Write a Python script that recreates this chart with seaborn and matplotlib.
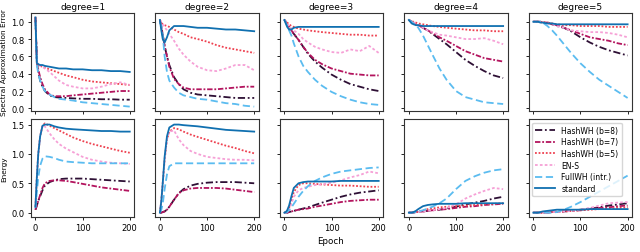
import matplotlib
matplotlib.use("Agg")
import matplotlib.pyplot as plt
import seaborn as sns
import pandas as pd

EPOCHS = [0, 3, 6, 10, 15, 20, 30, 40, 50, 65, 80, 100, 120, 140, 160, 180, 200]
DEGREES = [1, 2, 3, 4, 5]
METHODS = ["HashWH (b=8)", "HashWH (b=7)", "HashWH (b=5)", "EN-S", "FullWH (intr.)", "standard"]
COLORS = ["#2e1035", "#b3145e", "#ee4150", "#f6a0d6", "#5bbcf0", "#1070b0"]
DASHES = [(4, 1.5, 1, 1.5), (3, 1, 1, 1), (1, 1), (1.5, 1.2), (4, 2), ""]

# spectral approximation error, one dict per degree
ERR_D1 = {
    "HashWH (b=8)": [1.05, 0.55, 0.42, 0.32, 0.25, 0.2, 0.15, 0.13, 0.125, 0.12, 0.115, 0.11, 0.11, 0.105, 0.105, 0.1, 0.1],
    "HashWH (b=7)": [1.05, 0.55, 0.45, 0.36, 0.28, 0.22, 0.16, 0.14, 0.14, 0.14, 0.15, 0.16, 0.17, 0.18, 0.19, 0.2, 0.2],
    "HashWH (b=5)": [1.05, 0.52, 0.5, 0.49, 0.48, 0.47, 0.45, 0.43, 0.41, 0.38, 0.36, 0.33, 0.31, 0.3, 0.29, 0.28, 0.27],
    "EN-S": [1.05, 0.52, 0.5, 0.49, 0.48, 0.46, 0.42, 0.37, 0.32, 0.27, 0.25, 0.23, 0.23, 0.25, 0.28, 0.3, 0.27],
    "FullWH (intr.)": [1.0, 0.5, 0.4, 0.32, 0.25, 0.2, 0.16, 0.13, 0.11, 0.1, 0.09, 0.07, 0.06, 0.05, 0.04, 0.03, 0.02],
    "standard": [1.05, 0.52, 0.51, 0.5, 0.5, 0.49, 0.48, 0.47, 0.46, 0.46, 0.45, 0.45, 0.44, 0.44, 0.43, 0.43, 0.42],
}
ERR_D2 = {
    "HashWH (b=8)": [1.02, 0.95, 0.85, 0.72, 0.6, 0.5, 0.36, 0.28, 0.22, 0.18, 0.16, 0.15, 0.14, 0.13, 0.12, 0.12, 0.12],
    "HashWH (b=7)": [1.02, 0.95, 0.85, 0.72, 0.6, 0.48, 0.34, 0.28, 0.24, 0.22, 0.22, 0.22, 0.22, 0.23, 0.24, 0.25, 0.25],
    "HashWH (b=5)": [1.02, 0.99, 0.97, 0.96, 0.95, 0.94, 0.91, 0.88, 0.86, 0.82, 0.8, 0.77, 0.73, 0.7, 0.68, 0.66, 0.64],
    "EN-S": [1.02, 0.99, 0.97, 0.94, 0.9, 0.86, 0.78, 0.69, 0.62, 0.54, 0.48, 0.44, 0.43, 0.46, 0.5, 0.5, 0.44],
    "FullWH (intr.)": [1.0, 0.95, 0.85, 0.6, 0.42, 0.32, 0.24, 0.18, 0.15, 0.13, 0.11, 0.1, 0.08, 0.06, 0.05, 0.03, 0.02],
    "standard": [1.02, 0.9, 0.8, 0.76, 0.82, 0.9, 0.95, 0.95, 0.95, 0.94, 0.93, 0.93, 0.92, 0.91, 0.91, 0.9, 0.89],
}
ERR_D3 = {
    "HashWH (b=8)": [1.02, 1.0, 0.97, 0.94, 0.9, 0.86, 0.79, 0.71, 0.63, 0.54, 0.47, 0.39, 0.33, 0.28, 0.25, 0.22, 0.2],
    "HashWH (b=7)": [1.02, 1.0, 0.97, 0.94, 0.9, 0.86, 0.79, 0.71, 0.64, 0.56, 0.51, 0.46, 0.43, 0.4, 0.39, 0.38, 0.38],
    "HashWH (b=5)": [1.02, 1.0, 0.99, 0.97, 0.95, 0.94, 0.92, 0.91, 0.9, 0.89, 0.88, 0.87, 0.86, 0.85, 0.85, 0.84, 0.84],
    "EN-S": [1.02, 1.0, 0.98, 0.95, 0.92, 0.9, 0.86, 0.8, 0.76, 0.71, 0.68, 0.65, 0.64, 0.68, 0.66, 0.72, 0.64],
    "FullWH (intr.)": [1.02, 0.99, 0.95, 0.9, 0.84, 0.75, 0.6, 0.49, 0.42, 0.33, 0.26, 0.19, 0.14, 0.1, 0.07, 0.05, 0.04],
    "standard": [1.02, 0.98, 0.94, 0.91, 0.91, 0.93, 0.94, 0.94, 0.94, 0.94, 0.94, 0.94, 0.94, 0.94, 0.94, 0.94, 0.94],
}
ERR_D4 = {
    "HashWH (b=8)": [1.02, 1.01, 1.0, 0.99, 0.97, 0.96, 0.93, 0.9, 0.86, 0.8, 0.74, 0.65, 0.56, 0.49, 0.43, 0.38, 0.35],
    "HashWH (b=7)": [1.02, 1.01, 1.0, 0.99, 0.97, 0.96, 0.93, 0.9, 0.87, 0.82, 0.78, 0.72, 0.66, 0.62, 0.58, 0.56, 0.54],
    "HashWH (b=5)": [1.02, 1.01, 1.0, 1.0, 0.99, 0.98, 0.97, 0.96, 0.95, 0.94, 0.93, 0.92, 0.91, 0.9, 0.9, 0.89, 0.89],
    "EN-S": [1.02, 1.01, 1.0, 0.99, 0.98, 0.96, 0.93, 0.9, 0.88, 0.85, 0.84, 0.82, 0.8, 0.8, 0.81, 0.78, 0.74],
    "FullWH (intr.)": [1.02, 1.01, 1.0, 0.98, 0.96, 0.93, 0.84, 0.73, 0.62, 0.46, 0.33, 0.2, 0.13, 0.1, 0.07, 0.06, 0.05],
    "standard": [1.02, 1.0, 0.98, 0.97, 0.96, 0.96, 0.95, 0.95, 0.95, 0.95, 0.95, 0.95, 0.95, 0.95, 0.95, 0.95, 0.95],
}
ERR_D5 = {
    "HashWH (b=8)": [1.0, 1.0, 1.0, 1.0, 1.0, 0.99, 0.99, 0.97, 0.95, 0.93, 0.89, 0.82, 0.76, 0.71, 0.67, 0.64, 0.61],
    "HashWH (b=7)": [1.0, 1.0, 1.0, 1.0, 1.0, 0.99, 0.99, 0.97, 0.96, 0.93, 0.9, 0.86, 0.82, 0.8, 0.78, 0.75, 0.73],
    "HashWH (b=5)": [1.0, 1.0, 1.0, 1.0, 1.0, 0.99, 0.99, 0.98, 0.97, 0.96, 0.96, 0.95, 0.95, 0.95, 0.94, 0.94, 0.94],
    "EN-S": [1.0, 1.0, 1.0, 1.0, 1.0, 0.99, 0.98, 0.97, 0.95, 0.93, 0.9, 0.89, 0.88, 0.88, 0.87, 0.85, 0.82],
    "FullWH (intr.)": [1.0, 1.0, 1.0, 1.0, 1.0, 0.99, 0.95, 0.9, 0.84, 0.74, 0.64, 0.52, 0.42, 0.33, 0.26, 0.19, 0.12],
    "standard": [1.0, 1.0, 1.0, 1.0, 0.99, 0.99, 0.98, 0.98, 0.97, 0.97, 0.97, 0.97, 0.97, 0.97, 0.97, 0.97, 0.97],
}

# energy, one dict per degree
EN_D1 = {
    "HashWH (b=8)": [0.05, 0.12, 0.2, 0.28, 0.38, 0.46, 0.52, 0.55, 0.57, 0.58, 0.58, 0.58, 0.57, 0.56, 0.55, 0.54, 0.53],
    "HashWH (b=7)": [0.05, 0.12, 0.2, 0.3, 0.42, 0.5, 0.54, 0.55, 0.55, 0.54, 0.52, 0.49, 0.46, 0.43, 0.41, 0.39, 0.37],
    "HashWH (b=5)": [0.1, 0.6, 1.0, 1.3, 1.48, 1.52, 1.48, 1.44, 1.4, 1.34, 1.28, 1.22, 1.17, 1.13, 1.09, 1.05, 1.02],
    "EN-S": [0.1, 0.6, 1.0, 1.3, 1.48, 1.47, 1.35, 1.25, 1.17, 1.09, 1.03, 0.95, 0.9, 0.87, 0.85, 0.84, 0.83],
    "FullWH (intr.)": [0.08, 0.35, 0.6, 0.8, 0.92, 0.96, 0.95, 0.93, 0.9, 0.87, 0.86, 0.85, 0.84, 0.84, 0.84, 0.84, 0.84],
    "standard": [0.1, 0.6, 1.0, 1.3, 1.48, 1.5, 1.5, 1.47, 1.45, 1.43, 1.42, 1.41, 1.4, 1.39, 1.39, 1.38, 1.38],
}
EN_D2 = {
    "HashWH (b=8)": [0.0, 0.0, 0.01, 0.02, 0.05, 0.1, 0.22, 0.33, 0.4, 0.46, 0.49, 0.51, 0.52, 0.52, 0.52, 0.51, 0.5],
    "HashWH (b=7)": [0.0, 0.0, 0.01, 0.02, 0.05, 0.1, 0.22, 0.33, 0.38, 0.41, 0.42, 0.42, 0.42, 0.41, 0.39, 0.37, 0.35],
    "HashWH (b=5)": [0.0, 0.2, 0.5, 0.9, 1.25, 1.38, 1.44, 1.42, 1.38, 1.33, 1.29, 1.24, 1.19, 1.14, 1.1, 1.05, 1.01],
    "EN-S": [0.0, 0.2, 0.5, 0.9, 1.25, 1.38, 1.4, 1.25, 1.15, 1.05, 1.0, 0.95, 0.93, 0.91, 0.9, 0.9, 0.89],
    "FullWH (intr.)": [0.0, 0.05, 0.15, 0.4, 0.65, 0.79, 0.84, 0.84, 0.84, 0.84, 0.84, 0.84, 0.84, 0.84, 0.84, 0.84, 0.84],
    "standard": [0.0, 0.2, 0.5, 0.95, 1.3, 1.45, 1.5, 1.5, 1.49, 1.48, 1.47, 1.45, 1.43, 1.41, 1.4, 1.39, 1.38],
}
EN_D3 = {
    "HashWH (b=8)": [0, 0, 0, 0.01, 0.02, 0.03, 0.05, 0.07, 0.09, 0.13, 0.17, 0.22, 0.27, 0.31, 0.34, 0.36, 0.38],
    "HashWH (b=7)": [0, 0, 0, 0.01, 0.02, 0.03, 0.05, 0.06, 0.07, 0.1, 0.12, 0.15, 0.18, 0.2, 0.21, 0.22, 0.22],
    "HashWH (b=5)": [0, 0, 0.02, 0.08, 0.22, 0.35, 0.47, 0.5, 0.5, 0.49, 0.48, 0.47, 0.46, 0.46, 0.45, 0.44, 0.44],
    "EN-S": [0, 0, 0.01, 0.05, 0.15, 0.27, 0.38, 0.42, 0.44, 0.47, 0.48, 0.51, 0.55, 0.6, 0.64, 0.7, 0.67],
    "FullWH (intr.)": [0, 0, 0.01, 0.04, 0.09, 0.15, 0.27, 0.37, 0.45, 0.54, 0.6, 0.66, 0.7, 0.72, 0.74, 0.76, 0.77],
    "standard": [0, 0.01, 0.04, 0.12, 0.28, 0.42, 0.5, 0.52, 0.53, 0.53, 0.53, 0.53, 0.54, 0.54, 0.54, 0.54, 0.54],
}
EN_D4 = {
    "HashWH (b=8)": [0, 0, 0, 0, 0.01, 0.01, 0.02, 0.03, 0.04, 0.05, 0.07, 0.1, 0.14, 0.17, 0.2, 0.24, 0.27],
    "HashWH (b=7)": [0, 0, 0, 0, 0.01, 0.01, 0.02, 0.03, 0.04, 0.05, 0.06, 0.08, 0.1, 0.11, 0.13, 0.14, 0.15],
    "HashWH (b=5)": [0, 0, 0, 0, 0.01, 0.02, 0.04, 0.06, 0.07, 0.09, 0.1, 0.11, 0.12, 0.13, 0.14, 0.15, 0.16],
    "EN-S": [0, 0, 0, 0, 0.01, 0.01, 0.02, 0.03, 0.04, 0.06, 0.08, 0.14, 0.24, 0.31, 0.37, 0.42, 0.4],
    "FullWH (intr.)": [0, 0, 0, 0, 0.01, 0.02, 0.04, 0.07, 0.1, 0.16, 0.24, 0.4, 0.54, 0.62, 0.68, 0.72, 0.74],
    "standard": [0, 0, 0, 0.01, 0.03, 0.06, 0.11, 0.13, 0.14, 0.15, 0.15, 0.15, 0.16, 0.16, 0.16, 0.16, 0.16],
}
EN_D5 = {
    "HashWH (b=8)": [0, 0, 0, 0, 0, 0, 0.0, 0.01, 0.01, 0.02, 0.03, 0.05, 0.07, 0.09, 0.12, 0.14, 0.16],
    "HashWH (b=7)": [0, 0, 0, 0, 0, 0, 0.0, 0.01, 0.01, 0.02, 0.03, 0.04, 0.06, 0.08, 0.09, 0.11, 0.12],
    "HashWH (b=5)": [0, 0, 0, 0, 0, 0, 0.01, 0.01, 0.02, 0.02, 0.03, 0.04, 0.05, 0.06, 0.07, 0.08, 0.09],
    "EN-S": [0, 0, 0, 0, 0, 0, 0.0, 0.01, 0.01, 0.02, 0.03, 0.05, 0.08, 0.12, 0.16, 0.17, 0.18],
    "FullWH (intr.)": [0, 0, 0, 0, 0, 0, 0, 0, 0.01, 0.05, 0.1, 0.18, 0.27, 0.36, 0.45, 0.54, 0.63],
    "standard": [0, 0, 0, 0, 0.01, 0.02, 0.03, 0.04, 0.05, 0.05, 0.05, 0.05, 0.06, 0.06, 0.06, 0.06, 0.06],
}

ERRORS = [ERR_D1, ERR_D2, ERR_D3, ERR_D4, ERR_D5]
ENERGIES = [EN_D1, EN_D2, EN_D3, EN_D4, EN_D5]

rows = []
for deg, err, en in zip(DEGREES, ERRORS, ENERGIES):
    for metric, table in (("error", err), ("energy", en)):
        for m in METHODS:
            for ep, v in zip(EPOCHS, table[m]):
                rows.append({"degree": deg, "metric": metric, "method": m, "epoch": ep, "value": v})
df = pd.DataFrame(rows)

palette = dict(zip(METHODS, COLORS))
dashes = dict(zip(METHODS, DASHES))

plt.rcParams["font.family"] = ["DejaVu Sans"]
plt.rcParams["axes.edgecolor"] = "#333333"
plt.rcParams["axes.linewidth"] = 0.8

fig, axes = plt.subplots(2, 5, figsize=(6.4, 2.53), dpi=100, sharex=True, sharey="row")
fig.subplots_adjust(left=0.048, right=0.988, top=0.945, bottom=0.138, wspace=0.2, hspace=0.08)

for i, metric in enumerate(["error", "energy"]):
    for j, deg in enumerate(DEGREES):
        ax = axes[i, j]
        sub = df[(df.metric == metric) & (df.degree == deg)]
        sns.lineplot(data=sub, x="epoch", y="value", hue="method", style="method",
                     hue_order=METHODS, style_order=METHODS, palette=palette,
                     dashes=dashes, linewidth=1.3, ax=ax,
                     legend=(i == 1 and j == 4))
        ax.set_xlabel("")
        ax.set_ylabel("")
        ax.tick_params(labelsize=6, length=2.5, width=0.6, pad=2)
        if i == 0:
            ax.set_title(f"degree={deg}", fontsize=6.5, pad=3)

axes[0, 0].set_yticks([0.0, 0.2, 0.4, 0.6, 0.8, 1.0])
axes[1, 0].set_yticks([0.0, 0.5, 1.0, 1.5])
axes[1, 0].set_xticks([0, 100, 200])
axes[0, 0].set_ylabel("Spectral Approximation Error", fontsize=5.3, labelpad=3)
axes[1, 0].set_ylabel("Energy", fontsize=5.3, labelpad=3)

leg_ax = axes[1, 4]
handles, labels = leg_ax.get_legend_handles_labels()
leg_ax.legend(handles, labels, loc="upper left", fontsize=5.5, frameon=True,
              handlelength=2.6, borderpad=0.4, labelspacing=0.35, fancybox=True)

fig.text(0.516, 0.045, "Epoch", ha="center", va="center", fontsize=6.3)

fig.savefig("out.png", dpi=100)
